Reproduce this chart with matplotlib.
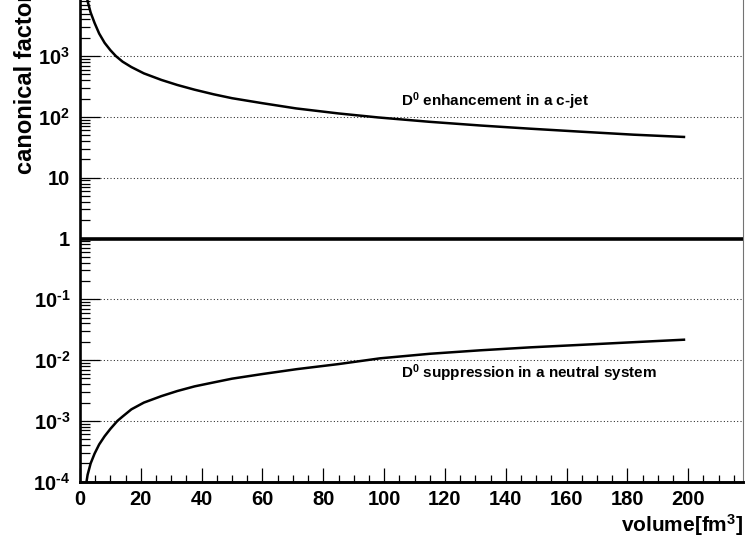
import numpy as np
import matplotlib
matplotlib.use("Agg")
import matplotlib.pyplot as plt
from matplotlib.ticker import MultipleLocator, LogLocator, FixedLocator, FuncFormatter, NullFormatter

plt.rcParams['font.family'] = ['Liberation Sans', 'DejaVu Sans']
plt.rcParams['font.weight'] = 'bold'
plt.rcParams['mathtext.fontset'] = 'custom'
plt.rcParams['mathtext.rm'] = 'Liberation Sans:bold'
plt.rcParams['mathtext.bf'] = 'Liberation Sans:bold'
plt.rcParams['mathtext.it'] = 'Liberation Sans:bold:italic'
plt.rcParams['mathtext.default'] = 'rm'

# canonical factor vs. system volume [fm^3]
volume_enh = [2.0, 2.5, 3.5, 4.8, 6.3, 8.1, 10, 11.8, 14, 16.9, 21, 26.8, 32, 37.7,
              44, 50, 60, 71, 85, 98, 115, 132, 148, 165, 182, 199]
factor_enh = [11500, 8000, 5200, 3500, 2350, 1650, 1250, 1000, 810, 660, 520, 405, 335, 280,
              235, 203, 168, 138, 114, 98, 83, 72, 64, 57, 51, 46.7]

volume_sup = [2.0, 2.5, 3.5, 4.8, 6.3, 8.1, 10, 12.3, 14, 16.9, 21, 26.8, 32, 37.7,
              44, 50, 60, 71.3, 85, 98.7, 115, 131.7, 148, 164.6, 182, 199]
factor_sup = [9.0e-5, 1.3e-4, 2.0e-4, 2.9e-4, 4.1e-4, 5.6e-4, 7.4e-4, 1.0e-3, 1.18e-3, 1.55e-3,
              2.0e-3, 2.56e-3, 3.1e-3, 3.7e-3, 4.3e-3, 4.95e-3, 5.9e-3, 7.1e-3, 8.6e-3,
              1.07e-2, 1.27e-2, 1.45e-2, 1.62e-2, 1.78e-2, 1.97e-2, 2.17e-2]

decade_ticks = [1e-4, 1e-3, 1e-2, 1e-1, 1, 10, 1e2, 1e3]
reference_level = 1.0
label_enh = r'$\mathrm{D}^{0}$ enhancement in a c-jet'
label_sup = r'$\mathrm{D}^{0}$ suppression in a neutral system'
x_title = r'volume[$\mathrm{fm}^{3}$]'
y_title = 'canonical factor'

W, H = 745, 542
fig = plt.figure(figsize=(W / 100, H / 100), dpi=100)

def fx(px):
    return px / W

def fy(py):
    return (H - py) / H

ax_left, ax_right = 80, 743
ax_bottom, ax_top = 481.7, -4.7
ax = fig.add_axes([fx(ax_left), fy(ax_bottom), fx(ax_right) - fx(ax_left), fy(ax_top) - fy(ax_bottom)])

ax.set_xlim(0, 218)
ax.set_yscale('log')
ax.set_ylim(1e-4, 1e4)

# dotted horizontal grid at each decade
ax.yaxis.grid(True, which='major', linestyle=(0, (1, 2.2)), linewidth=0.75, color='0.15', zorder=1)
ax.xaxis.grid(False)

ax.plot(volume_enh, factor_enh, color='black', lw=1.8, zorder=3, solid_capstyle='butt')
ax.plot(volume_sup, factor_sup, color='black', lw=1.8, zorder=3, solid_capstyle='butt')
ax.axhline(reference_level, color='black', lw=2.6, zorder=4)

ax.text(105.7, 150, label_enh, fontsize=11, fontweight='bold', ha='left', va='baseline')
ax.text(105.7, 5.05e-3, label_sup, fontsize=11, fontweight='bold', ha='left', va='baseline')

# axes: ROOT-like frame, ticks pointing inside
for side in ('top', 'right'):
    ax.spines[side].set_linewidth(0.8)
    ax.spines[side].set_color('0.45')
ax.spines['left'].set_linewidth(1.9)
ax.spines['bottom'].set_linewidth(2.1)

ax.xaxis.set_major_locator(MultipleLocator(20))
ax.xaxis.set_minor_locator(MultipleLocator(5))
ax.yaxis.set_major_locator(FixedLocator(decade_ticks))
ax.yaxis.set_minor_locator(LogLocator(base=10, subs=np.arange(2, 10), numticks=20))

HYPHEN = '\u2010'

def decade_label(val, pos):
    e = int(round(np.log10(val)))
    if e == 0:
        return '1'
    if e == 1:
        return '10'
    if e < 0:
        return '$10^{' + HYPHEN + str(-e) + '}$'
    return '$10^{' + str(e) + '}$'

ax.yaxis.set_major_formatter(FuncFormatter(decade_label))
ax.yaxis.set_minor_formatter(NullFormatter())

ax.tick_params(axis='x', which='major', direction='in', length=10, width=0.9,
               labelsize=14.5, pad=6, top=False)
ax.tick_params(axis='x', which='minor', direction='in', length=5, width=0.9, top=False)
ax.tick_params(axis='y', which='major', direction='in', length=14.4, width=0.9,
               labelsize=14.5, pad=7, right=False)
ax.tick_params(axis='y', which='minor', direction='in', length=7.2, width=0.9, right=False)
for lab in ax.get_xticklabels() + ax.get_yticklabels():
    lab.set_fontweight('bold')

fig.text(fx(743), fy(531.7), x_title, fontsize=15, fontweight='bold', ha='right', va='baseline')
fig.text(fx(26), fy(-8), y_title, fontsize=17, fontweight='bold', rotation=90,
         ha='center', va='top')

fig.savefig('out.png', dpi=100)
